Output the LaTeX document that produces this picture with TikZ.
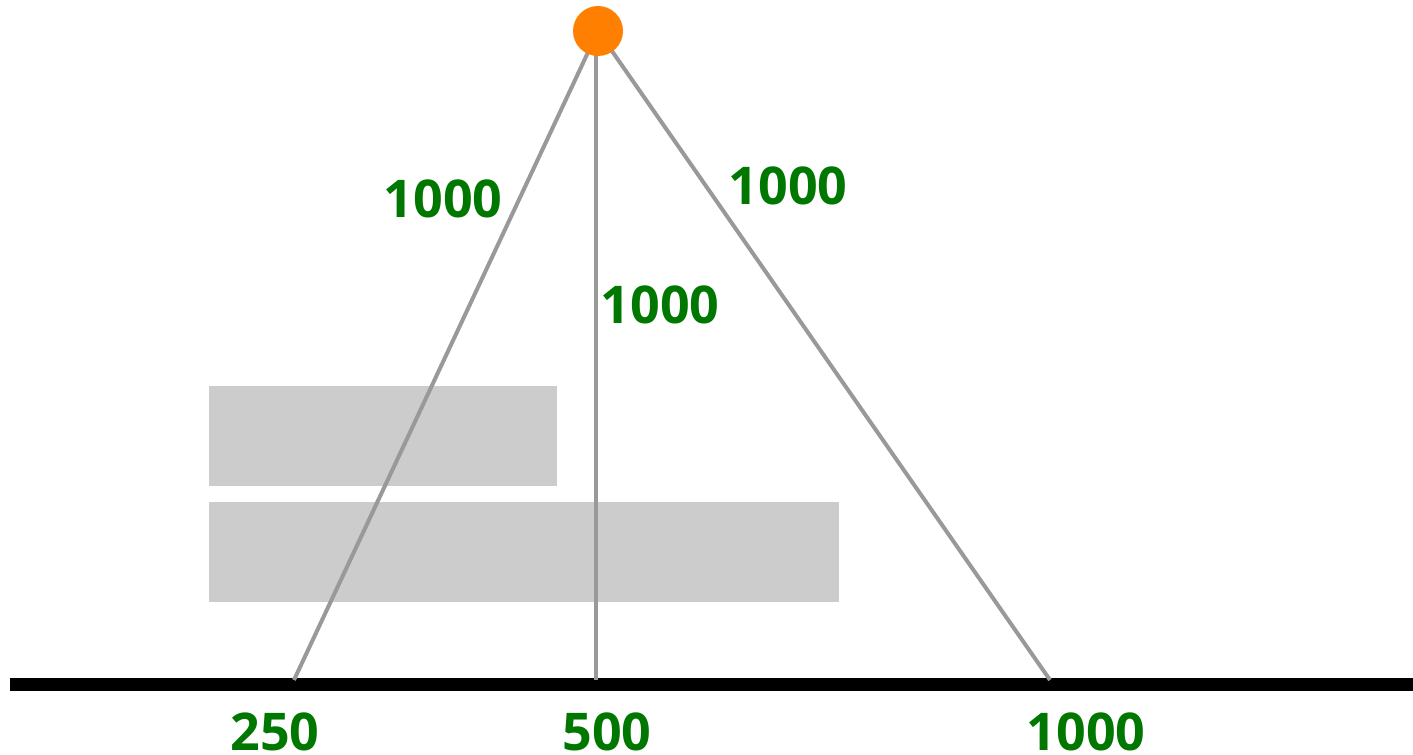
\documentclass[tikz,border=0pt]{standalone}
\usepackage{fontspec}
\setmainfont{Open Sans}
\definecolor{lbl}{RGB}{0,119,0}
\definecolor{ln}{RGB}{153,153,153}
\definecolor{blk}{RGB}{204,204,204}
\definecolor{dot}{RGB}{255,127,0}
\begin{document}
\begin{tikzpicture}[x=0.75pt,y=-0.75pt,
  num/.style={text=lbl,font=\bfseries\fontsize{39}{39}\selectfont,inner sep=0pt,anchor=center},
  ray/.style={draw=ln,line width=3pt},
  slab/.style={fill=blk,draw=none}]
\useasboundingbox (0,0) rectangle (1413,755);
% blocks
\fill[slab] (209,386) rectangle (557,486);
\fill[slab] (209,502) rectangle (839,602);
% ground
\coordinate (gl) at (10,684.5);
\coordinate (gr) at (1413,684.5);
\draw[line width=9.75pt,black] (gl) -- (gr);
% ends
\coordinate (p250) at (294,680);
\coordinate (p500) at (596,680);
\coordinate (p1000) at (1050,680);
\coordinate (apex) at (598,31);
\draw[ray] (apex) -- (p250);
\draw[ray] (596,31) -- (p500);
\draw[ray] (apex) -- (p1000);
\node[circle,fill=dot,minimum size=37.5pt,inner sep=0pt] (src) at (apex) {};
% labels
\node[num] (lA) at (443,199) {1000};
\node[num] (lB) at (660,305) {1000};
\node[num] (lC) at (788,186) {1000};
\node[num] (b1) at (275,732) {250};
\node[num] (b2) at (607,732) {500};
\node[num] (b3) at (1086,732) {1000};
\end{tikzpicture}
\end{document}
